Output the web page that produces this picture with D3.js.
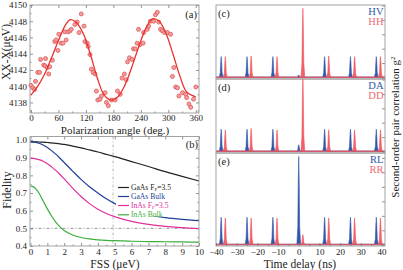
<!DOCTYPE html>
<html>
<head>
<meta charset="utf-8">
<script src="https://cdn.jsdelivr.net/npm/d3@7"></script>
<style>
  body { margin: 0; background: #fff; }
  svg { font-family: "Liberation Serif", "Times New Roman", serif; }
</style>
</head>
<body>
<svg id="fig" width="403" height="270"></svg>
<script>
// (a) XX-X splitting vs polarization angle
const angleDeg = [0,4,8,10,15,19,21,28,31,32,36,39,41,47,52,55,59,61,66,70,74,77,81,85,88,96,101,105,110,116,118,123,125,129,132,136,140,143,146,151,154,162,165,169,176,184,189,195,199,204,208,211,215,221,224,228,232,235,238,245,246,254,257,261,268,272,276,279,283,287,292,298,305,309,312,316,320,323,331,338,340,345,349,355,360]
const shiftUeV = [4140.1,4139.8,4139.6,4140.6,4141.7,4141.7,4143.3,4142.6,4142.5,4143.4,4142.3,4141.5,4142.4,4143.2,4145.5,4145.7,4144.4,4146.4,4145.3,4145.3,4146.7,4145.7,4146.7,4146.8,4147.0,4147.6,4147.9,4146.6,4148.9,4147.4,4145.5,4145.3,4144.9,4143.9,4142.1,4141.7,4141.5,4139.4,4138.3,4138.4,4138.8,4139.2,4138.0,4137.6,4138.3,4138.3,4139.4,4139.0,4141.0,4141.5,4140.8,4143.0,4143.5,4143.3,4144.6,4144.6,4145.3,4147.0,4145.1,4145.3,4146.6,4147.0,4147.4,4148.0,4148.0,4148.8,4149.1,4147.9,4147.0,4146.8,4146.6,4146.6,4146.4,4141.2,4142.3,4139.9,4139.8,4138.8,4139.2,4139.0,4138.6,4137.8,4137.4,4138.4,4139.9]
const fitAngle = [0,15,30,45,60,75,86,98,115,130,145,160,175,190,205,220,235,250,265,280,295,310,325,340,360]
const fitShift = [4138.9,4140.0,4141.5,4143.5,4145.6,4147.5,4148.2,4147.9,4146.4,4143.9,4141.0,4138.9,4138.3,4138.7,4140.1,4142.3,4144.8,4147.0,4148.3,4148.0,4146.5,4144.0,4141.3,4139.3,4138.7]

// (b) fidelity vs FSS
const fss = [0,0.25,0.5,0.75,1,1.25,1.5,1.75,2,2.5,3,3.5,4,4.5,5,6,7,8,9,10]
const gaasPurcell = [0.990,0.990,0.989,0.988,0.986,0.984,0.981,0.978,0.975,0.966,0.956,0.944,0.932,0.919,0.906,0.878,0.850,0.821,0.794,0.768]
const gaasBulk = [0.990,0.988,0.982,0.972,0.958,0.940,0.920,0.897,0.873,0.824,0.777,0.735,0.700,0.667,0.640,0.600,0.576,0.561,0.551,0.544]
const inasPurcell = [0.897,0.895,0.889,0.880,0.866,0.848,0.828,0.805,0.780,0.728,0.680,0.640,0.608,0.584,0.566,0.539,0.522,0.511,0.504,0.499]
const inasBulk = [0.740,0.730,0.700,0.655,0.610,0.570,0.535,0.508,0.488,0.462,0.448,0.440,0.435,0.432,0.430,0.427,0.425,0.424,0.423,0.422]
const fidNames = ['GaAs F', 'GaAs Bulk', 'InAs F', 'InAs Bulk']
const fidColors = ['#222222', '#1f3f99', '#e0309a', '#3caf3c']

// (c)-(e) correlation peaks
const blueDelay = [-37.5,-25,-12.5,0,12.5,25,37.5]
const redDelay = [-35.5,-23,-10.5,2,14.5,27,39.5]
const hvHeight = [1.45,1.45,1.45,0.18,1.45,1.45,1.45]
const hhHeight = [1.45,1.5,1.45,4.8,1.5,1.45,1.45]
const daHeight = [1.55,1.55,1.55,0.47,1.55,1.55,1.55]
const ddHeight = [1.5,1.6,1.5,5.2,1.5,1.5,1.5]
const rlHeight = [1.9,1.9,1.9,6.1,1.9,1.9,1.9]
const rrHeight = [1.85,1.85,1.85,0.7,1.85,1.85,1.85]
const peakOffset = [-0.9,-0.45,-0.2,0,0.2,0.45,0.9]
const peakProfile = [0,0.2,0.75,1,0.75,0.2,0]

const blue = '#2f58aa'
const red = '#f0525c'
const svg = d3.select('#fig')

const styleAxis = (g, fs) => {
  g.select('.domain').remove()
  g.attr('font-family', null).attr('font-size', null)
  g.selectAll('line').attr('stroke', '#777').attr('stroke-width', 0.8)
  g.selectAll('text').attr('fill', '#222').style('font-size', fs + 'px')
}

const addAxis = (gen, scale, values, size, fmt, tx, ty, pad = 3) => {
  const g = svg.append('g')
    .attr('transform', `translate(${tx},${ty})`)
    .call(d3[gen](scale).tickValues(values).tickSize(size).tickPadding(pad).tickFormat(fmt))
  styleAxis(g, 9)
  return g
}

const frame = (x0, y0, x1, y1) => {
  svg.append('rect')
    .attr('x', x0).attr('y', y0).attr('width', x1 - x0).attr('height', y1 - y0)
    .attr('fill', 'none').attr('stroke', '#999').attr('stroke-width', 0.9)
}

const text = (str, x, y, fs, opts = {}) => {
  const t = svg.append('text')
    .attr('x', x).attr('y', y)
    .style('font-size', fs + 'px')
    .attr('fill', opts.fill || '#222')
    .attr('text-anchor', opts.anchor || 'start')
    .text(str)
  if (opts.rotate) t.attr('transform', `rotate(${opts.rotate},${x},${y})`)
  return t
}

// ---------- Panel (a)
const L = 30, R = 199
const xA = d3.scaleLinear([-2, 367], [L, R])
const yA = d3.scaleLinear([4136.7, 4150], [113, 5])

addAxis('axisBottom', xA, d3.range(0, 361, 60), -3, d3.format('d'), 0, 113, 1.5)
addAxis('axisBottom', xA, d3.range(30, 361, 60), -1.5, '', 0, 113)
addAxis('axisTop', xA, d3.range(0, 361, 60), -3, '', 0, 5)
addAxis('axisLeft', yA, d3.range(4138, 4151, 2), -3, d3.format('d'), L, 0, 3)
addAxis('axisLeft', yA, d3.range(4137, 4150, 2), -1.5, '', L, 0)
addAxis('axisRight', yA, d3.range(4138, 4151, 2), -3, '', R, 0)
addAxis('axisRight', yA, d3.range(4137, 4150, 2), -1.5, '', R, 0)
frame(L, 5, R, 113)

svg.append('g').selectAll('circle')
  .data(angleDeg)
  .enter()
  .append('circle')
  .attr('cx', d => xA(d))
  .attr('cy', (d, i) => yA(shiftUeV[i]))
  .attr('r', 2)
  .attr('fill', '#f2a0a0')
  .attr('stroke', '#e05555')
  .attr('stroke-width', 0.8)

svg.append('path')
  .datum(fitAngle)
  .attr('d', d3.line().x(d => xA(d)).y((d, i) => yA(fitShift[i])).curve(d3.curveCatmullRom))
  .attr('fill', 'none')
  .attr('stroke', '#e8322e')
  .attr('stroke-width', 1.3)

text('(a)', 197, 18, 10.5, { anchor: 'end' })
text('Polarization angle (deg.)', 115, 133.5, 11, { anchor: 'middle' })
text('XX-X(μeV)', 10, 52, 11.5, { anchor: 'middle', rotate: -90 })

// ---------- Panel (b)
const xB = d3.scaleLinear([0, 10], [L + 0.5, R])
const yB = d3.scaleLinear([0.4, 1.02], [246, 136.5])
const B0 = 136.5, B1 = 246

addAxis('axisBottom', xB, d3.range(0, 11), -3, d3.format('d'), 0, B1, 3)
addAxis('axisBottom', xB, d3.range(0.5, 10, 1), -1.5, '', 0, B1)
addAxis('axisTop', xB, d3.range(0, 11), -3, '', 0, B0)
addAxis('axisLeft', yB, d3.range(0.4, 1.01, 0.1), -3, d3.format('.1f'), L, 0, 3)
addAxis('axisLeft', yB, d3.range(0.45, 1.0, 0.1), -1.5, '', L, 0)
addAxis('axisRight', yB, d3.range(0.4, 1.01, 0.1), -3, '', R, 0)
addAxis('axisRight', yB, d3.range(0.45, 1.0, 0.1), -1.5, '', R, 0)

svg.append('line')
  .attr('x1', xB(0)).attr('x2', xB(10)).attr('y1', yB(0.5)).attr('y2', yB(0.5))
  .attr('stroke', '#666').attr('stroke-width', 0.7).attr('stroke-dasharray', '3,2,1,2')
svg.append('line')
  .attr('x1', xB(4.9)).attr('x2', xB(4.9)).attr('y1', B0).attr('y2', B1)
  .attr('stroke', '#999').attr('stroke-width', 0.7).attr('stroke-dasharray', '3,2,1,2')

const fidSeries = [gaasPurcell, gaasBulk, inasPurcell, inasBulk]
const lineB = d3.line().x((d, i) => xB(fss[i])).y(d => yB(d)).curve(d3.curveMonotoneX)
fidSeries.forEach((s, k) => {
  svg.append('path')
    .datum(s)
    .attr('d', lineB)
    .attr('fill', 'none')
    .attr('stroke', fidColors[k])
    .attr('stroke-width', 1.2)
})
frame(L, B0, R, B1)

// legend, on a white box like the original
const legY = [187.5, 196.5, 205.5, 214.8]
svg.append('rect')
  .attr('x', 116).attr('y', 182).attr('width', 63).attr('height', 34.5)
  .attr('fill', '#fff')
fidNames.forEach((name, k) => {
  svg.append('line')
    .attr('x1', 118).attr('x2', 129).attr('y1', legY[k]).attr('y2', legY[k])
    .attr('stroke', fidColors[k]).attr('stroke-width', 1.2)
  const t = text(name, 131, legY[k] + 2.6, 7.6, { fill: fidColors[k] })
  if (k === 0 || k === 2) {
    t.append('tspan').attr('dy', 1).style('font-size', '5px').text('P')
    t.append('tspan').attr('dy', -1).text('=3.5')
  }
})

text('(b)', 198, 148, 10.5, { anchor: 'end' })
text('FSS (μeV)', 115, 268, 11.5, { anchor: 'middle' })
text('Fidelity', 11, 190, 12, { anchor: 'middle', rotate: -90 })

// ---------- Panels (c)-(e)
const RL = 216, RR = 385
const xR = d3.scaleLinear([-40, 41.7], [RL, RR])
const panels = [
  { top: 5, bottom: 79, y: d3.scaleLinear([0, 5], [77.5, 5.5]), b: hvHeight, r: hhHeight, tag: '(c)', names: ['HV', 'HH'], max: 5 },
  { top: 79, bottom: 153, y: d3.scaleLinear([0, 5], [151.5, 79.5]), b: daHeight, r: ddHeight, tag: '(d)', names: ['DA', 'DD'], max: 5 },
  { top: 153, bottom: 246, y: d3.scaleLinear([0, 6.3], [244.8, 153.5]), b: rlHeight, r: rrHeight, tag: '(e)', names: ['RL', 'RR'], max: 6 }
]

const peakSeries = (centers, heights) => {
  const base = 0.04
  const pts = [[-41, base]]
  centers.forEach((c, i) => {
    peakOffset.forEach((dx, j) => pts.push([c + dx, base + peakProfile[j] * (heights[i] - base)]))
  })
  pts.push([42, base])
  return pts
}

panels.forEach((p, k) => {
  const clipId = 'clip' + k
  svg.append('clipPath').attr('id', clipId)
    .append('rect').attr('x', RL).attr('y', p.top).attr('width', RR - RL).attr('height', p.bottom - p.top)
  const g = svg.append('g').attr('clip-path', `url(#${clipId})`)
  const area = d3.area().x(d => xR(d[0])).y0(p.y(0)).y1(d => p.y(d[1]))
  g.append('path').datum(peakSeries(blueDelay, p.b))
    .attr('d', area).attr('fill', blue).attr('stroke', blue).attr('stroke-width', 0.6)
  g.append('path').datum(peakSeries(redDelay, p.r))
    .attr('d', area).attr('fill', red).attr('fill-opacity', 0.92).attr('stroke', red).attr('stroke-width', 0.6)

  addAxis('axisRight', p.y, d3.range(0, p.max + 1, 1), -3, '', RR, 0)
  frame(RL, p.top, RR, p.bottom)

  text(p.tag, RL + 2, p.top + 12, 10.5)
  text(p.names[0], RR - 1.5, p.top + 9.5, 10.5, { anchor: 'end', fill: blue })
  text(p.names[1], RR - 1.5, p.top + 20, 10.5, { anchor: 'end', fill: '#ee6a72' })
})

addAxis('axisBottom', xR, d3.range(-40, 41, 10), -3, d3.format('d'), 0, 246, 3)
addAxis('axisBottom', xR, d3.range(-35, 41, 10), -1.5, '', 0, 246)

text('Time delay (ns)', 300, 268, 11.5, { anchor: 'middle' })
const g2 = text('Second-order pair correlation g', 399, 127, 11, { anchor: 'middle', rotate: -90 })
g2.append('tspan').attr('baseline-shift', 'super').style('font-size', '7px').text('2')
</script>
</body>
</html>
